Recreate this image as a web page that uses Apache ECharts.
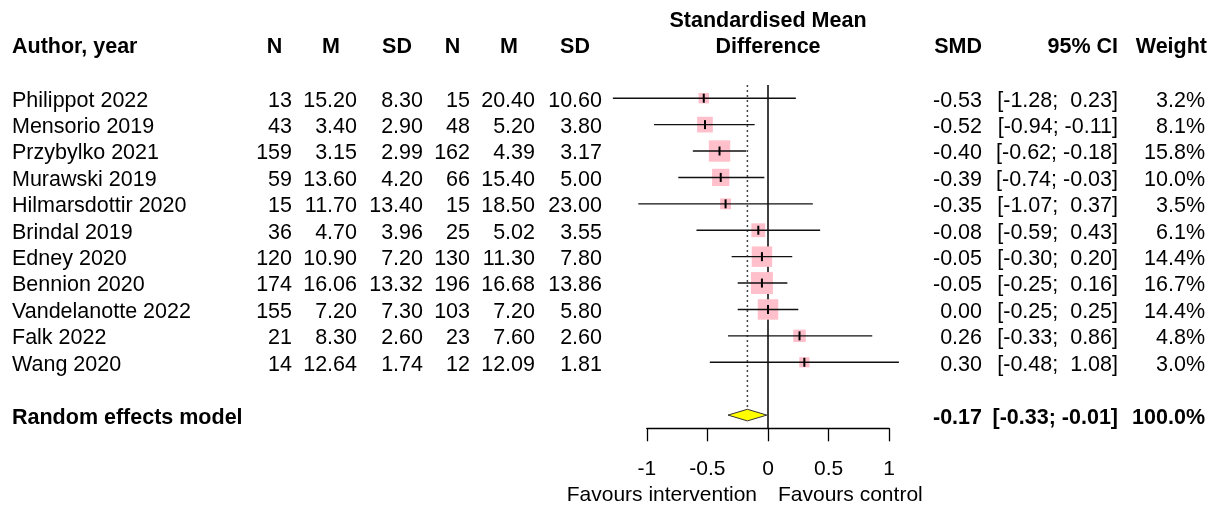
<!DOCTYPE html>
<html><head><meta charset="utf-8">
<script src="https://cdn.jsdelivr.net/npm/echarts@6/dist/echarts.min.js"></script>
<style>html,body{margin:0;padding:0;background:#fff}#c{width:1217px;height:508px}</style>
</head><body><div id="c"></div>
<script>
// ---- data ----
const authors = ['Philippot 2022','Mensorio 2019','Przybylko 2021','Murawski 2019','Hilmarsdottir 2020','Brindal 2019','Edney 2020','Bennion 2020','Vandelanotte 2022','Falk 2022','Wang 2020'];
const nE  = [13, 43, 159, 59, 15, 36, 120, 174, 155, 21, 14];
const mE  = [15.20, 3.40, 3.15, 13.60, 11.70, 4.70, 10.90, 16.06, 7.20, 8.30, 12.64];
const sdE = [8.30, 2.90, 2.99, 4.20, 13.40, 3.96, 7.20, 13.32, 7.30, 2.60, 1.74];
const nC  = [15, 48, 162, 66, 15, 25, 130, 196, 103, 23, 12];
const mC  = [20.40, 5.20, 4.39, 15.40, 18.50, 5.02, 11.30, 16.68, 7.20, 7.60, 12.09];
const sdC = [10.60, 3.80, 3.17, 5.00, 23.00, 3.55, 7.80, 13.86, 5.80, 2.60, 1.81];
const smd    = [-0.53, -0.52, -0.40, -0.39, -0.35, -0.08, -0.05, -0.05, 0.00, 0.26, 0.30];
const lower  = [-1.28, -0.94, -0.62, -0.74, -1.07, -0.59, -0.30, -0.25, -0.25, -0.33, -0.48];
const upper  = [0.23, -0.11, -0.18, -0.03, 0.37, 0.43, 0.20, 0.16, 0.25, 0.86, 1.08];
const weight = [3.2, 8.1, 15.8, 10.0, 3.5, 6.1, 14.4, 16.7, 14.4, 4.8, 3.0];
const pooledLabel = ['Random effects model'];
const pooledSMD = [-0.17];
const pooledLower = [-0.33];
const pooledUpper = [-0.01];
const pooledWeight = [100.0];
const xTicks = [-1, -0.5, 0, 0.5, 1];

// ---- styling ----
const FONT = '"Liberation Sans", Arial, sans-serif';
const FS = 21.5;
const TEXT_DY = 2.5;
const POOLED_ROW = 12;

function txt(x, y, s, align, bold, size) {
  return {type: 'text', silent: true, style: {x: x, y: y, text: s, align: align, verticalAlign: 'middle',
    fontFamily: FONT, fontSize: size || FS, fontWeight: bold ? 'bold' : 'normal', fill: '#000'}};
}
function ci(lo, hi) { return '[' + lo.toFixed(2) + ';' + (hi < 0 ? ' ' : '  ') + hi.toFixed(2) + ']'; }

const chart = echarts.init(document.getElementById('c'), null, {renderer: 'canvas'});

const option = {
  animation: false,
  grid: {left: 646.8, right: 327.8, top: 85, bottom: 79.7, containLabel: false},
  xAxis: {
    type: 'value', min: xTicks[0], max: xTicks[xTicks.length - 1], interval: 0.5,
    axisLine: {show: true, onZero: false, lineStyle: {color: '#000', width: 1.3}},
    axisTick: {show: true, length: 13, lineStyle: {color: '#000', width: 1.3}},
    splitLine: {show: false},
    axisLabel: {color: '#000', fontSize: 21, fontFamily: FONT, margin: 30,
      showMinLabel: true, showMaxLabel: true, formatter: function (v) { return String(v); }}
  },
  yAxis: {type: 'value', inverse: true, min: -0.5, max: 12.5, show: false},
  series: [
    {
      type: 'custom', clip: false, z: 2,
      data: [[0, -0.5, POOLED_ROW + 0.5]],
      renderItem: function (params, api) {
        const top = api.coord([0, -0.5]);
        const bot = api.coord([0, 12.5]);
        const pTop = api.coord([pooledSMD[0], -0.5]);
        const pBot = api.coord([pooledSMD[0], POOLED_ROW]);
        return {type: 'group', children: [
          {type: 'line', shape: {x1: top[0], y1: top[1], x2: bot[0], y2: bot[1]},
            style: {stroke: '#000', lineWidth: 1.5}},
          {type: 'line', shape: {x1: pTop[0], y1: pTop[1], x2: pBot[0], y2: pBot[1] - 6},
            style: {stroke: '#444', lineWidth: 1.5, lineDash: [2, 3]}}
        ]};
      }
    },
    {
      type: 'custom', clip: false, z: 3,
      data: authors.map(function (a, i) { return [smd[i], i]; }),
      renderItem: function (params, api) {
        const i = params.dataIndex;
        const c = api.coord([smd[i], i]);
        const lo = api.coord([lower[i], i]);
        const hi = api.coord([upper[i], i]);
        const y = c[1];
        const s = 5.0 * Math.sqrt(weight[i]) + 1.5;
        const ty = y + TEXT_DY;
        return {type: 'group', children: [
          {type: 'rect', shape: {x: c[0] - s / 2, y: y - s / 2, width: s, height: s}, style: {fill: '#FFC0CB'}},
          {type: 'line', shape: {x1: lo[0], y1: y, x2: hi[0], y2: y}, style: {stroke: '#111', lineWidth: 1.4}},
          {type: 'line', shape: {x1: c[0], y1: y - 4.5, x2: c[0], y2: y + 4.5}, style: {stroke: '#000', lineWidth: 2}},
          txt(12, ty, authors[i], 'left'),
          txt(292, ty, String(nE[i]), 'right'),
          txt(357, ty, mE[i].toFixed(2), 'right'),
          txt(423, ty, sdE[i].toFixed(2), 'right'),
          txt(470, ty, String(nC[i]), 'right'),
          txt(535, ty, mC[i].toFixed(2), 'right'),
          txt(602, ty, sdC[i].toFixed(2), 'right'),
          txt(982, ty, smd[i].toFixed(2), 'right'),
          txt(1118, ty, ci(lower[i], upper[i]), 'right'),
          txt(1205, ty, weight[i].toFixed(1) + '%', 'right')
        ]};
      }
    },
    {
      type: 'custom', clip: false, z: 4,
      data: [[pooledSMD[0], POOLED_ROW]],
      renderItem: function (params, api) {
        const c = api.coord([pooledSMD[0], POOLED_ROW]);
        const lo = api.coord([pooledLower[0], POOLED_ROW]);
        const hi = api.coord([pooledUpper[0], POOLED_ROW]);
        const h = 5.8;
        const y = c[1];
        const ty = y + TEXT_DY;
        return {type: 'group', children: [
          {type: 'polygon', shape: {points: [[lo[0], y], [c[0], y - h], [hi[0], y], [c[0], y + h]]},
            style: {fill: '#FFFF00', stroke: '#333', lineWidth: 1}},
          txt(12, ty, pooledLabel[0], 'left', true),
          txt(982, ty, pooledSMD[0].toFixed(2), 'right', true),
          txt(1118, ty, '[' + pooledLower[0].toFixed(2) + '; ' + pooledUpper[0].toFixed(2) + ']', 'right', true),
          txt(1205, ty, pooledWeight[0].toFixed(1) + '%', 'right', true)
        ]};
      }
    }
  ],
  graphic: [
    txt(12, 47.5, 'Author, year', 'left', true),
    txt(274.5, 47.5, 'N', 'center', true),
    txt(331, 47.5, 'M', 'center', true),
    txt(397, 47.5, 'SD', 'center', true),
    txt(452.5, 47.5, 'N', 'center', true),
    txt(509, 47.5, 'M', 'center', true),
    txt(575, 47.5, 'SD', 'center', true),
    txt(768, 21, 'Standardised Mean', 'center', true),
    txt(768, 47.5, 'Difference', 'center', true),
    txt(982, 47.5, 'SMD', 'right', true),
    txt(1118, 47.5, '95% CI', 'right', true),
    txt(1207, 47.5, 'Weight', 'right', true),
    txt(757, 495, 'Favours intervention', 'right', false, 21),
    txt(778, 495, 'Favours control', 'left', false, 21)
  ]
};
chart.setOption(option);
</script>
</body></html>
